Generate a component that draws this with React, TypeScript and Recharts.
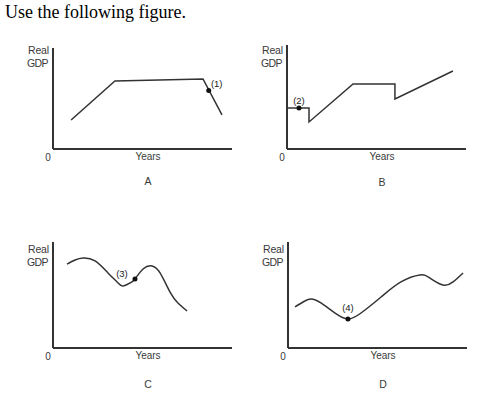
import React from 'react'
import { LineChart, Line, XAxis, YAxis, ReferenceDot } from 'recharts'

// panel A: rise, plateau, fall
const aYears = [1.01, 3.46, 8.38, 9.44]
const aGdp = [2.87, 6.73, 6.93, 3.37]
const aDot = { x: 8.7, y: 5.8, label: '(1)' }

// panel B: steps and slopes
const bYears = [0, 1.23, 1.23, 3.69, 6.03, 6.03, 9.27]
const bGdp = [3.94, 3.94, 2.6, 6.25, 6.25, 4.81, 7.5]
const bDot = { x: 0.67, y: 3.94, label: '(2)' }

// panel C: wavy decline
const cYears = [0.78, 1.23, 1.68, 2.35, 3.07, 3.58, 3.91, 4.3, 4.58, 5.03, 5.53, 5.98, 6.54, 6.98, 7.49]
const cGdp = [7.92, 8.3, 8.49, 8.21, 7.08, 6.23, 5.85, 6.13, 6.51, 7.45, 7.74, 7.08, 5.28, 4.25, 3.49]
const cDot = { x: 4.58, y: 6.51, label: '(3)' }

// panel D: wavy growth
const dYears = [0.39, 0.84, 1.28, 1.84, 2.63, 3.35, 4.08, 5.2, 6.31, 7.37, 7.93, 8.66, 9.22, 9.78]
const dGdp = [3.87, 4.34, 4.62, 4.25, 3.3, 2.74, 3.3, 4.81, 6.23, 6.89, 6.6, 5.94, 6.23, 7.08]
const dDot = { x: 3.35, y: 2.74, label: '(4)' }

const INK = '#333'
const FONT = '"Liberation Sans", Arial, sans-serif'

function toRows(xs: number[], ys: number[]) {
  return xs.map((x, i) => ({ year: x, gdp: ys[i] }))
}

const dotLabel = (text: string, dx: number, dy: number) => (props: any) => {
  const vb = props.viewBox || {}
  const cx = (vb.x ?? 0) + (vb.width ?? 0) / 2
  const cy = (vb.y ?? 0) + (vb.height ?? 0) / 2
  return (
    <text x={cx + dx} y={cy + dy} textAnchor="middle" dominantBaseline="central" fontSize={9.5} fill="#222" fontFamily={FONT}>
      {text}
    </text>
  )
}

type PanelProps = {
  left: number
  top: number
  plotH: number
  xs: number[]
  ys: number[]
  curve: 'linear' | 'natural'
  dot: { x: number; y: number; label: string }
  lx: number
  ly: number
}

function Panel({ left, top, plotH, xs, ys, curve, dot, lx, ly }: PanelProps) {
  // plot area starts at (left, top), 179px wide
  return (
    <div style={{ position: 'absolute', left: left - 5, top: top - 4 }}>
      <LineChart width={188} height={plotH + 9} data={toRows(xs, ys)} margin={{ top: 4, right: 4, bottom: 4, left: 4 }}>
        <XAxis
          dataKey="year"
          type="number"
          domain={[0, 10]}
          allowDataOverflow
          height={1}
          tick={false}
          tickLine={false}
          axisLine={{ stroke: INK, strokeWidth: 2 }}
        />
        <YAxis
          type="number"
          domain={[0, 10]}
          allowDataOverflow
          width={1}
          tick={false}
          tickLine={false}
          axisLine={{ stroke: INK, strokeWidth: 2 }}
        />
        <Line
          type={curve}
          dataKey="gdp"
          stroke={INK}
          strokeWidth={1.5}
          dot={false}
          activeDot={false}
          isAnimationActive={false}
        />
        <ReferenceDot x={dot.x} y={dot.y} r={2.5} fill="#111" stroke="none" label={dotLabel(dot.label, lx, ly)} />
      </LineChart>
    </div>
  )
}

function Txt({ x, y, children, size = 10, anchor = 'center', spacing = 0 }: { x: number; y: number; children: React.ReactNode; size?: number; anchor?: 'center' | 'left'; spacing?: number }) {
  return (
    <div
      style={{
        position: 'absolute',
        left: x,
        top: y,
        transform: anchor === 'center' ? 'translate(-50%, -50%)' : 'translate(0, -50%)',
        fontFamily: FONT,
        fontSize: size,
        letterSpacing: spacing,
        lineHeight: 1,
        color: '#3a3a3a',
        whiteSpace: 'nowrap',
      }}
    >
      {children}
    </div>
  )
}

function AxisText({ ox, oy, letter, letterY }: { ox: number; oy: number; letter: string; letterY: number }) {
  // ox/oy: origin of the panel's axes
  return (
    <>
      <Txt x={ox - 25} y={oy - 99} anchor="left" size={10.5} spacing={-0.2}>Real</Txt>
      <Txt x={ox - 26} y={oy - 86} anchor="left" size={10.5} spacing={-0.6}>GDP</Txt>
      <Txt x={ox - 5} y={oy + 9}>0</Txt>
      <Txt x={ox + 95} y={oy + 8}>Years</Txt>
      <Txt x={ox + 95} y={letterY} size={10.5}>{letter}</Txt>
    </>
  )
}

export default function App() {
  return (
    <div style={{ position: 'absolute', left: 0, top: 0, width: 482, height: 393, background: '#fff', overflow: 'hidden' }}>
      <div style={{ position: 'absolute', left: 5, top: 2, fontFamily: '"Liberation Serif", "Times New Roman", serif', fontSize: 18 }}>
        Use the following figure.
      </div>

      <Panel left={53} top={48} plotH={101} xs={aYears} ys={aGdp} curve="linear" dot={aDot} lx={8} ly={-7} />
      <Panel left={287} top={45} plotH={104} xs={bYears} ys={bGdp} curve="linear" dot={bDot} lx={0} ly={-8} />
      <Panel left={53} top={242} plotH={106} xs={cYears} ys={cGdp} curve="natural" dot={cDot} lx={-13} ly={-5} />
      <Panel left={288} top={242} plotH={106} xs={dYears} ys={dGdp} curve="natural" dot={dDot} lx={0} ly={-11} />

      <AxisText ox={53} oy={149} letter="A" letterY={181} />
      <AxisText ox={287} oy={149} letter="B" letterY={182} />
      <AxisText ox={53} oy={348} letter="C" letterY={384} />
      <AxisText ox={288} oy={348} letter="D" letterY={384} />
    </div>
  )
}
